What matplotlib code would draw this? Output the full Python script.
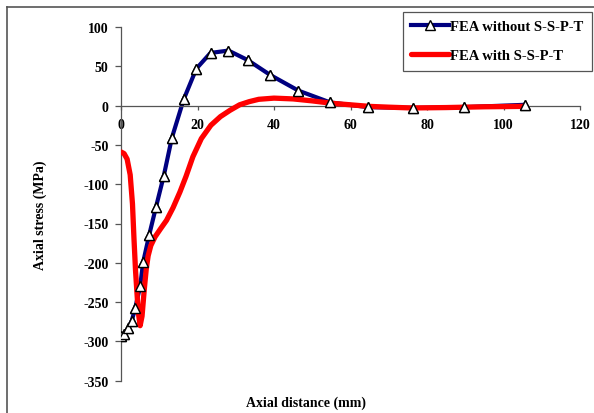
import matplotlib
matplotlib.use("Agg")
import matplotlib.pyplot as plt
from matplotlib.lines import Line2D

plt.rcParams["axes.unicode_minus"] = False

# Data
blue_x = [0, 0.9, 1.9, 2.8, 3.7, 5.0, 5.8, 7.4, 9.15, 11.2, 13.3, 16.4, 19.7, 23.4, 28.1, 33.1, 39.0, 46.4, 54.7, 64.7, 76.4, 89.6, 105.5]
blue_y = [-293, -290, -283, -274, -258, -230, -199, -164, -129, -89, -41, 8, 47, 67, 70, 58, 39, 19, 4, -2, -3, -2, 1]

red_x = [0, 0.8, 1.6, 2.4, 3.0, 3.4, 3.8, 4.1, 4.5, 5.0, 5.5, 6.1, 6.6, 7.1, 7.8, 8.9, 10.3, 11.9, 13.6, 15.4,
         17.0, 18.8, 21, 23.5, 26, 28.5, 31, 33.5, 36, 40, 45, 50, 55, 60, 65, 70, 76, 85, 95, 105]
red_y = [-59, -61, -68, -88, -125, -170, -210, -233, -262, -280, -268, -233, -208, -191, -178, -167, -157, -146, -130, -110,
         -90, -65, -42, -25, -14, -6, 1, 5, 8, 9.5, 8.5, 6, 3, 1, -1, -2, -3, -2.5, -1.5, -1]

x_ticks = [0, 20, 40, 60, 80, 100, 120]
y_ticks = [100, 50, 0, -50, -100, -150, -200, -250, -300, -350]

label_blue = "FEA without S-S-P-T"
label_red = "FEA with S-S-P-T"
x_label = "Axial distance (mm)"
y_label = "Axial stress (MPa)"

W, H = 594, 414
fig = plt.figure(figsize=(W / 100, H / 100), dpi=100)
font = dict(family="Liberation Serif", weight="bold", size=10)

# outer chart border (left and top visible)
fig.add_artist(Line2D([7 / W, 7 / W], [0, 1 - 8 / H], transform=fig.transFigure, color="#555555", lw=1.2))
fig.add_artist(Line2D([7 / W, 1], [1 - 8 / H, 1 - 8 / H], transform=fig.transFigure, color="#555555", lw=1.2))

left, right = 121 / W, 580 / W
top, bottom = 1 - 28 / H, 1 - 381.7 / H
ax = fig.add_axes([left, bottom, right - left, top - bottom])
ax.set_xlim(0, 120)
ax.set_ylim(-350, 100)
ax.patch.set_alpha(0)

ax.spines["top"].set_visible(False)
ax.spines["right"].set_visible(False)
ax.spines["bottom"].set_position(("data", 0))
ax.spines["left"].set_position(("data", 0))
for s in ("bottom", "left"):
    ax.spines[s].set_color("#555555")
    ax.spines[s].set_linewidth(0.9)

ax.set_xticks(x_ticks)
ax.set_yticks(y_ticks)
ax.tick_params(axis="x", direction="out", length=3, width=0.9, color="#555555", pad=6)
ax.tick_params(axis="y", direction="out", length=4, width=0.9, color="#555555", pad=5)
for lab in ax.get_xticklabels() + ax.get_yticklabels():
    lab.set_fontfamily("Liberation Serif")
    lab.set_fontweight("bold")
    lab.set_fontsize(10)

ax.plot(blue_x, blue_y, color="#000080", lw=3, marker="^", markersize=7,
        markerfacecolor="white", markeredgecolor="black", markeredgewidth=1.0,
        label=label_blue, zorder=2, solid_joinstyle="round")
ax.plot(red_x, red_y, color="#FF0000", lw=3.8, label=label_red, zorder=3,
        solid_joinstyle="round", solid_capstyle="round")
ax.plot(blue_x, blue_y, linestyle="none", marker="^", markersize=7.5,
        markerfacecolor="white", markeredgecolor="black", markeredgewidth=1.0, zorder=4)

leg = ax.legend(loc="upper left", bbox_to_anchor=(403 / W, 1 - 13 / H), bbox_transform=fig.transFigure,
                prop=dict(family="Liberation Serif", weight="bold", size=10.5),
                frameon=True, fancybox=False, edgecolor="#555555", framealpha=1,
                handlelength=2.6, handletextpad=0.1, labelspacing=1.1, borderpad=0.55, borderaxespad=0)
leg.get_frame().set_linewidth(0.9)

fig.text(306 / W, 1 - 403 / H, x_label, ha="center", va="center", **font)
fig.text(40 / W, 1 - 215 / H, y_label, ha="center", va="center", rotation=90, **font)

fig.savefig("out.png", dpi=100)
